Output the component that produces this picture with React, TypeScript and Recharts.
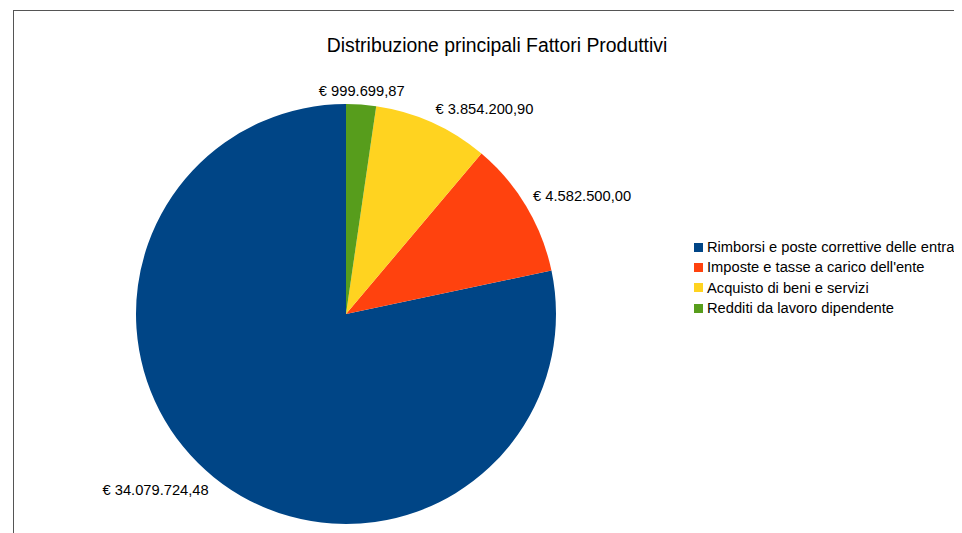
import React from 'react';
import { PieChart, Pie, Cell } from 'recharts';

const categories = [
  'Rimborsi e poste correttive delle entrate',
  "Imposte e tasse a carico dell'ente",
  'Acquisto di beni e servizi',
  'Redditi da lavoro dipendente',
];
const values = [34079724.48, 4582500.0, 3854200.9, 999699.87];
const valueLabels = ['€ 34.079.724,48', '€ 4.582.500,00', '€ 3.854.200,90', '€ 999.699,87'];
const colors = ['#004586', '#ff420e', '#ffd320', '#579d1c'];
const title = 'Distribuzione principali Fattori Produttivi';

const data = categories.map((name, i) => ({ name, value: values[i], label: valueLabels[i] }));

const FONT = '"Liberation Sans", Arial, sans-serif';
const RAD = Math.PI / 180;
const LABEL_SIZE = 14.7;

const renderLabel = (props: any) => {
  const { cx, cy, midAngle, outerRadius, index } = props;
  const r = outerRadius + 8;
  const c = Math.cos(-midAngle * RAD);
  const s = Math.sin(-midAngle * RAD);
  const x = cx + r * c;
  const y = cy + r * s;
  const anchor = c > 0.2 ? 'start' : c < -0.2 ? 'end' : 'middle';
  const dy = s < -0.2 ? -1 : s > 0.2 ? 12 : 6;
  return (
    <text
      x={x}
      y={y + dy}
      textAnchor={anchor}
      fill="#000"
      fontSize={LABEL_SIZE}
      fontFamily={FONT}
    >
      {valueLabels[index]}
    </text>
  );
};

export default function App() {
  return (
    <div style={{ position: 'relative', width: 954, height: 525, overflow: 'hidden', background: '#fff' }}>
      <div
        style={{
          position: 'absolute',
          left: 5,
          top: 2,
          width: 1200,
          height: 800,
          border: '1px solid #555',
          boxSizing: 'border-box',
        }}
      />
      <div
        style={{
          position: 'absolute',
          left: 0,
          top: 25,
          width: 978,
          textAlign: 'center',
          fontFamily: FONT,
          fontSize: 19.4,
          color: '#000',
          lineHeight: '24px',
        }}
      >
        {title}
      </div>
      <div style={{ position: 'absolute', left: 0, top: 0 }}>
        <PieChart width={954} height={525}>
          <Pie
            data={data}
            dataKey="value"
            nameKey="name"
            cx={333}
            cy={301}
            outerRadius={210}
            innerRadius={0}
            startAngle={90}
            endAngle={450}
            stroke="none"
            label={renderLabel}
            labelLine={false}
            isAnimationActive={false}
          >
            {data.map((d, i) => (
              <Cell key={d.name} fill={colors[i]} />
            ))}
          </Pie>
        </PieChart>
      </div>
      <div
        style={{
          position: 'absolute',
          left: 686,
          top: 229,
          fontFamily: FONT,
          fontSize: LABEL_SIZE,
          color: '#000',
          whiteSpace: 'nowrap',
        }}
      >
        {categories.map((c, i) => (
          <div key={c} style={{ display: 'flex', alignItems: 'center', height: 20.3 }}>
            <span style={{ display: 'inline-block', width: 9, height: 9, background: colors[i], marginRight: 4, flexShrink: 0 }} />
            <span>{c}</span>
          </div>
        ))}
      </div>
    </div>
  );
}
